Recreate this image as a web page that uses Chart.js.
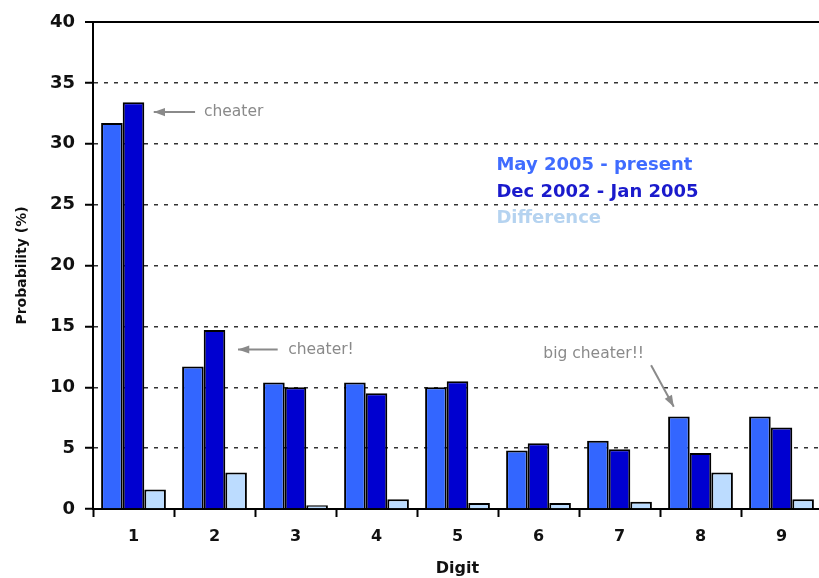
<!DOCTYPE html>
<html>
<head>
<meta charset="utf-8">
<script src="https://cdn.jsdelivr.net/npm/chart.js@4/dist/chart.umd.min.js"></script>
<style>
  html, body { margin: 0; padding: 0; background: #fff; overflow: hidden; }
  #wrap { width: 826px; height: 578px; }
</style>
</head>
<body>
<div id="wrap"><canvas id="chart" width="826" height="578"></canvas></div>
<script>
// Datos
const digitos = ['1', '2', '3', '4', '5', '6', '7', '8', '9'];
const mayo2005 = [31.7, 11.7, 10.4, 10.4, 10.0, 4.8, 5.6, 7.6, 7.6];
const dic2002 = [33.4, 14.7, 10.0, 9.5, 10.5, 5.4, 4.9, 4.6, 6.7];
const diferencia = [1.6, 3.0, 0.3, 0.8, 0.5, 0.5, 0.6, 3.0, 0.8];
const ticksY = [0, 5, 10, 15, 20, 25, 30, 35, 40];

const fuente = '"DejaVu Sans", sans-serif';

// Notas con flechas (posicion en unidades de categoria / valor)
const notas = [
  { texto: 'cheater', tx: 1.37, ty: 32.6, desde: [1.26, 32.6], hasta: [0.75, 32.6] },
  { texto: 'cheater!', tx: 2.41, ty: 13.1, desde: [2.28, 13.1], hasta: [1.79, 13.1] },
  { texto: 'big cheater!!', tx: 5.56, ty: 12.7, desde: [6.89, 11.8], hasta: [7.17, 8.4] }
];

// Leyenda como texto libre
const leyenda = [
  { texto: 'May 2005 - present', color: '#3f6cff', y: 28.2 },
  { texto: 'Dec 2002 - Jan 2005', color: '#1a1acc', y: 26.05 },
  { texto: 'Difference', color: '#b5d3f0', y: 23.85 }
];

const pluginNotas = {
  id: 'notas',
  afterDraw(chart) {
    const ctx = chart.ctx;
    const ys = chart.scales.y;
    const area = chart.chartArea;
    const ancho = (area.right - area.left) / digitos.length;
    const px = v => area.left + v * ancho;
    ctx.save();
    ctx.textBaseline = 'middle';
    ctx.fillStyle = '#8a8a8a';
    ctx.strokeStyle = '#8a8a8a';
    ctx.font = '15.5px ' + fuente;
    notas.forEach(n => {
      ctx.fillText(n.texto, px(n.tx), ys.getPixelForValue(n.ty));
      const x1 = px(n.desde[0]), y1 = ys.getPixelForValue(n.desde[1]);
      const x2 = px(n.hasta[0]), y2 = ys.getPixelForValue(n.hasta[1]);
      ctx.lineWidth = 2;
      ctx.beginPath();
      ctx.moveTo(x1, y1);
      ctx.lineTo(x2, y2);
      ctx.stroke();
      const ang = Math.atan2(y2 - y1, x2 - x1);
      ctx.beginPath();
      ctx.moveTo(x2, y2);
      ctx.lineTo(x2 - 12 * Math.cos(ang - 0.35), y2 - 12 * Math.sin(ang - 0.35));
      ctx.lineTo(x2 - 12 * Math.cos(ang + 0.35), y2 - 12 * Math.sin(ang + 0.35));
      ctx.closePath();
      ctx.fill();
    });
    ctx.font = 'bold 18px ' + fuente;
    leyenda.forEach(l => {
      ctx.fillStyle = l.color;
      ctx.fillText(l.texto, px(4.98), ys.getPixelForValue(l.y));
    });
    ctx.restore();
  }
};

new Chart(document.getElementById('chart'), {
  type: 'bar',
  data: {
    labels: digitos,
    datasets: [
      { label: 'May 2005 - present', data: mayo2005, backgroundColor: '#3366ff' },
      { label: 'Dec 2002 - Jan 2005', data: dic2002, backgroundColor: '#0000d0' },
      { label: 'Difference', data: diferencia, backgroundColor: '#bcdcff' }
    ].map(d => Object.assign(d, {
      borderColor: '#000',
      borderWidth: 2,
      borderSkipped: 'bottom',
      categoryPercentage: 0.8,
      barPercentage: 1.0
    }))
  },
  options: {
    responsive: false,
    animation: false,
    layout: { padding: { top: 22, right: 4, left: 0, bottom: 0 } },
    plugins: {
      legend: { display: false },
      tooltip: { enabled: false }
    },
    scales: {
      x: {
        grid: {
          offset: true,
          drawOnChartArea: false,
          drawTicks: true,
          tickLength: 8,
          tickColor: '#000',
          tickWidth: 2
        },
        border: { color: '#000', width: 2 },
        ticks: {
          color: '#111',
          font: { family: fuente, size: 16, weight: 'bold' },
          padding: 10
        },
        title: {
          display: true,
          text: 'Digit',
          color: '#111',
          font: { family: fuente, size: 16, weight: 'bold' },
          padding: { top: 10, bottom: 0 }
        },
        afterFit: s => { s.height = 69; }
      },
      y: {
        min: 0,
        max: 40,
        afterBuildTicks: s => { s.ticks = ticksY.map(v => ({ value: v })); },
        grid: {
          color: ctx => (ctx.tick && ctx.tick.value === 40) ? '#000' : '#333',
          lineWidth: ctx => (ctx.tick && ctx.tick.value === 40) ? 2 : 1.5,
          tickLength: 8,
          tickColor: '#000',
          tickWidth: 2,
          tickBorderDash: []
        },
        border: {
          color: '#000',
          width: 2,
          dash: ctx => (ctx.tick && (ctx.tick.value === 40 || ctx.tick.value === 0)) ? [] : [4, 6]
        },
        ticks: {
          color: '#111',
          font: { family: fuente, size: 18, weight: 'bold' },
          padding: 10
        },
        title: {
          display: true,
          text: 'Probability (%)',
          color: '#111',
          font: { family: fuente, size: 14, weight: 'bold' },
          padding: { top: 14, bottom: 0 }
        },
        afterFit: s => { s.width = 93; }
      }
    }
  },
  plugins: [pluginNotas]
});
</script>
</body>
</html>
